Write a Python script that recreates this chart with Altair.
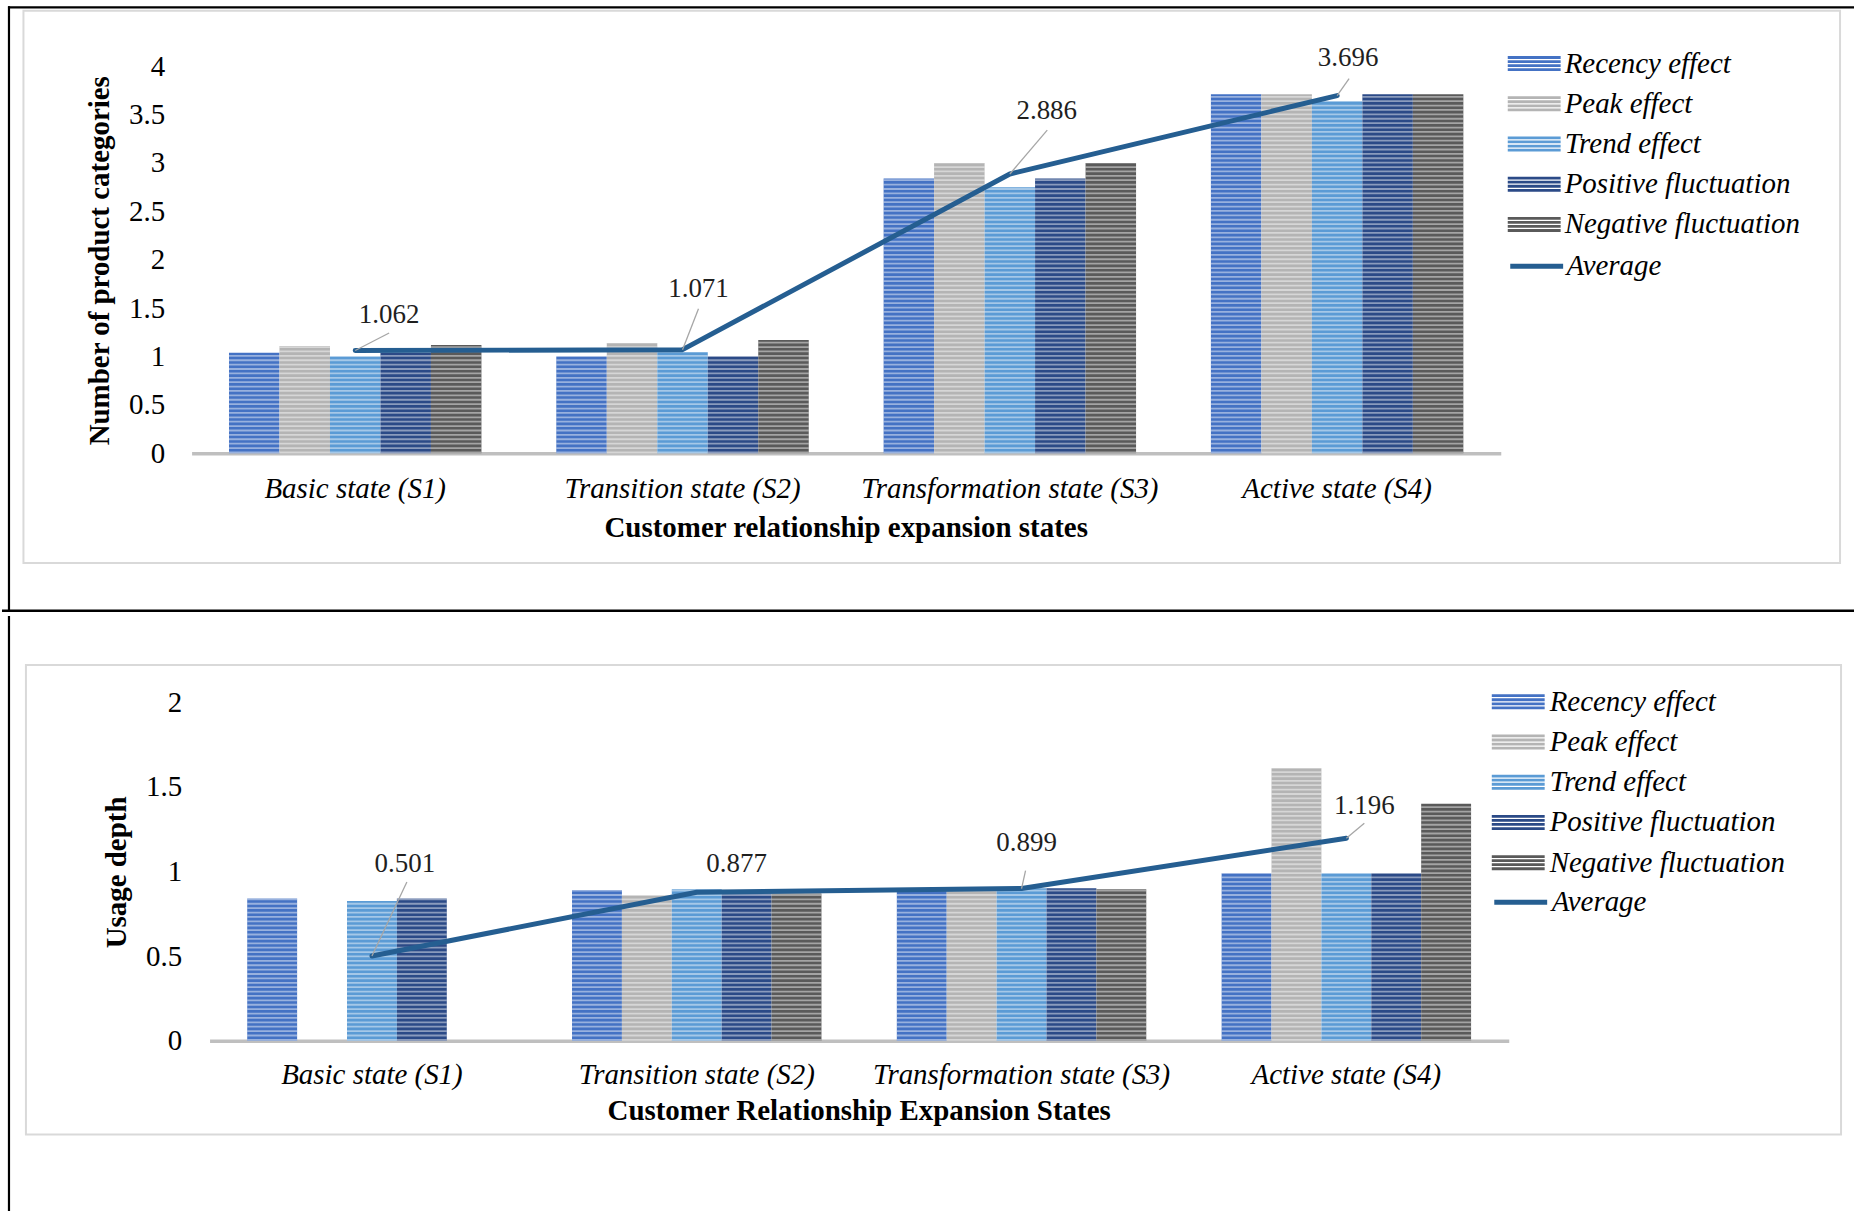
import altair as alt
import pandas as pd

# ---------------------------------------------------------------- data
categories = [
    "Basic state (S1)",
    "Transition state (S2)",
    "Transformation state (S3)",
    "Active state (S4)",
]
series_names = [
    "Recency effect",
    "Peak effect",
    "Trend effect",
    "Positive fluctuation",
    "Negative fluctuation",
]
series_colors = ["#4472C4", "#B4B4B4", "#5B9BD5", "#2B4A87", "#5A5A5A"]
average_color = "#255E91"

# Number of product categories per state
cat_recency = [1.04, 1.00, 2.84, 3.71]
cat_peak = [1.11, 1.14, 3.00, 3.71]
cat_trend = [1.00, 1.045, 2.75, 3.64]
cat_positive = [1.04, 1.00, 2.84, 3.71]
cat_negative = [1.12, 1.17, 3.00, 3.71]
cat_average = [1.062, 1.071, 2.886, 3.696]

# Usage depth per state
dep_recency = [0.84, 0.89, 0.90, 0.99]
dep_peak = [0.0, 0.86, 0.90, 1.61]
dep_trend = [0.825, 0.895, 0.90, 0.99]
dep_positive = [0.84, 0.87, 0.90, 0.99]
dep_negative = [0.0, 0.87, 0.895, 1.40]
dep_average = [0.501, 0.877, 0.899, 1.196]

# ---------------------------------------------------------------- styling
FONT = "Liberation Serif"
PAGE_W = 1856
STRIPE_PERIOD = 4.4   # px between the light lines of the bar texture
STRIPE_LINE = 1.8     # px thickness of each light line
LEGEND_ROW = 40.4     # px from one legend entry to the next

# striped rectangle used as legend swatch (coordinates scaled by sqrt(size)/2)
BAR_SYMBOL = (
    "M-1.325,-0.375H1.325V-0.235H-1.325Z "
    "M-1.325,-0.1717H1.325V-0.0317H-1.325Z "
    "M-1.325,0.0317H1.325V0.1717H-1.325Z "
    "M-1.325,0.235H1.325V0.375H-1.325Z"
)
LINE_SYMBOL = "M-1.325,0H1.325"

TOP = dict(
    height=612,
    x_range=[190, 1502], pad_in=0.2287, pad_out=0.1143,
    y_domain=[0, 4], y_range=[453, 65],
    y_ticks=[0, 0.5, 1, 1.5, 2, 2.5, 3, 3.5, 4],
    xlab_pad=21, ylab_pad=27,
    x_title="Customer relationship expansion states", x_title_pos=(846, 528),
    y_title="Number of product categories", y_title_pos=(98.6, 260),
    box=(21.5, 9.5, 1842, 563),
    legend_x=1515.5, legend_y=42.4, legend_gap=10.5, avg_shift=-1.5,
    label_off=[(34, -36), (16, -61), (37, -63), (11, -38)],
    leaders=[(34, -17.6), (16, -41), (37.5, -44), (12, -17)],
    hrules=[(6, PAGE_W, 6, 2.2), (0, PAGE_W, 610.8, 2.4)],
    vrules=[(7, 5, 612, 2.2)],
)

BOTTOM = dict(
    height=599,
    x_range=[208, 1510], pad_in=0.232, pad_out=0.116,
    y_domain=[0, 2], y_range=[425.7, 86.3],
    y_ticks=[0, 0.5, 1, 1.5, 2],
    xlab_pad=20, ylab_pad=28,
    x_title="Customer Relationship Expansion States", x_title_pos=(859, 496.5),
    y_title="Usage depth", y_title_pos=(115, 257),
    box=(24, 49, 1843, 519.7),
    legend_x=1499.5, legend_y=66, legend_gap=11.5, avg_shift=-3.5,
    label_off=[(33, -92), (40, -28), (5, -46), (18, -32)],
    leaders=[(35, -74), None, (4, -18), (18, -15)],
    hrules=[],
    vrules=[(7, 0, 599, 2.2)],
)


def bar_frame(cols):
    rows = []
    for name, vals in zip(series_names, cols):
        for state, v in zip(categories, vals):
            rows.append({"state": state, "series": name, "value": v})
    return pd.DataFrame(rows)


def panel(cols, averages, L):
    bars_df = bar_frame(cols)
    avg_df = pd.DataFrame({"state": categories, "avg": averages, "kind": ["Average"] * 4})
    one = pd.DataFrame({"k": [0]})

    unit_px = (L["y_range"][0] - L["y_range"][1]) / (L["y_domain"][1] - L["y_domain"][0])
    step = STRIPE_PERIOD / unit_px
    thick = STRIPE_LINE / unit_px

    xs = alt.Scale(domain=categories, range=L["x_range"],
                   paddingInner=L["pad_in"], paddingOuter=L["pad_out"])
    ys = alt.Scale(domain=L["y_domain"], range=L["y_range"], nice=False, zero=True)

    x_axis = alt.Axis(
        offset=L["y_range"][0] - L["height"], domainColor="#BFBFBF", domainWidth=3.5,
        ticks=False, tickSize=0, labelAngle=0, labelFont=FONT, labelFontStyle="italic",
        labelFontSize=29, labelColor="black", labelPadding=L["xlab_pad"], labelLimit=0,
        labelOverlap=False, grid=False, title=None,
    )
    y_axis = alt.Axis(
        offset=-L["x_range"][0], values=L["y_ticks"], labelExpr="'' + datum.value",
        domain=False, ticks=False, tickSize=0, grid=False, labelFont=FONT,
        labelFontSize=29, labelColor="black", labelPadding=L["ylab_pad"], title=None,
    )
    x_enc = alt.X("state:N", sort=categories, scale=xs, axis=x_axis)
    xo_enc = alt.XOffset("series:N", sort=series_names,
                         scale=alt.Scale(paddingInner=0, paddingOuter=0))

    fill_legend = alt.Legend(
        orient="none", legendX=L["legend_x"], legendY=L["legend_y"], title=None,
        symbolType=BAR_SYMBOL, symbolSize=1600, symbolStrokeWidth=0, symbolOpacity=1,
        labelFont=FONT, labelFontStyle="italic", labelFontSize=29, labelColor="black",
        labelOffset=L["legend_gap"], rowPadding=5.3, padding=0, labelLimit=0,
        direction="vertical",
    )
    stroke_legend = alt.Legend(
        orient="none", legendX=L["legend_x"],
        legendY=L["legend_y"] + 5 * LEGEND_ROW + L["avg_shift"],
        title=None, symbolType=LINE_SYMBOL, symbolSize=1600, symbolStrokeWidth=5,
        symbolOpacity=1, labelFont=FONT, labelFontStyle="italic", labelFontSize=29,
        labelColor="black", labelOffset=L["legend_gap"] - 3, padding=0, labelLimit=0,
        direction="vertical",
    )

    # chart frame
    x0, y0, x1, y1 = L["box"]
    frame = alt.Chart(one).mark_rect(fillOpacity=0, stroke="#D9D9D9", strokeWidth=2).encode(
        x=alt.value(x0), x2=alt.value(x1), y=alt.value(y0), y2=alt.value(y1)
    )

    bars = alt.Chart(bars_df).mark_bar().encode(
        x=x_enc, xOffset=xo_enc,
        y=alt.Y("value:Q", scale=ys, axis=y_axis),
        fill=alt.Fill("series:N", sort=series_names,
                      scale=alt.Scale(domain=series_names, range=series_colors),
                      legend=fill_legend),
    )

    # horizontal line texture on top of each bar
    stripes = (
        alt.Chart(bars_df)
        .transform_filter("datum.value > 0")
        .transform_calculate(s=f"sequence(0, datum.value, {step})")
        .transform_flatten(["s"])
        .transform_calculate(s2=f"min(datum.s + {thick}, datum.value)")
        .mark_bar(color="white", opacity=0.45)
        .encode(x=x_enc, xOffset=xo_enc,
                y=alt.Y("s:Q", scale=ys, axis=y_axis), y2="s2:Q")
    )

    line = alt.Chart(avg_df).mark_line(strokeWidth=5, strokeCap="round", strokeJoin="round").encode(
        x=x_enc,
        y=alt.Y("avg:Q", scale=ys, axis=y_axis),
        stroke=alt.Stroke("kind:N", scale=alt.Scale(domain=["Average"], range=[average_color]),
                          legend=stroke_legend),
    )

    notes = []
    for i in range(len(categories)):
        row = avg_df.iloc[[i]]
        lead = L["leaders"][i]
        if lead is not None:
            vx, vy = lead
            path = f"M0,0L{vx / 100:.4f},{vy / 100:.4f}"
            notes.append(
                alt.Chart(row).mark_point(shape=path, size=40000, filled=False,
                                          color="#A6A6A6", strokeWidth=1.3, opacity=1)
                .encode(x=x_enc, y=alt.Y("avg:Q", scale=ys, axis=y_axis))
            )
        dx, dy = L["label_off"][i]
        notes.append(
            alt.Chart(row).mark_text(dx=dx, dy=dy, font=FONT, fontSize=27, color="#1F1F1F")
            .encode(x=x_enc, y=alt.Y("avg:Q", scale=ys, axis=y_axis),
                    text=alt.Text("avg:Q", format=".3f"))
        )

    tx, ty = L["x_title_pos"]
    x_title = alt.Chart(pd.DataFrame({"t": [L["x_title"]]})).mark_text(
        font=FONT, fontSize=29, fontWeight="bold", color="black"
    ).encode(text="t:N", x=alt.value(tx), y=alt.value(ty))
    vx_, vy_ = L["y_title_pos"]
    y_title = alt.Chart(pd.DataFrame({"t": [L["y_title"]]})).mark_text(
        font=FONT, fontSize=29, fontWeight="bold", color="black", angle=270
    ).encode(text="t:N", x=alt.value(vx_), y=alt.value(vy_))

    # table borders around the cell
    borders = []
    for (a, b, y, w) in L["hrules"]:
        borders.append(alt.Chart(one).mark_rule(color="black", strokeWidth=w).encode(
            x=alt.value(a), x2=alt.value(b), y=alt.value(y)))
    for (x, a, b, w) in L["vrules"]:
        borders.append(alt.Chart(one).mark_rule(color="black", strokeWidth=w).encode(
            x=alt.value(x), y=alt.value(a), y2=alt.value(b)))

    return alt.layer(frame, bars, stripes, line, *notes, x_title, y_title, *borders).properties(
        width=PAGE_W, height=L["height"]
    )


top = panel([cat_recency, cat_peak, cat_trend, cat_positive, cat_negative], cat_average, TOP)
bottom = panel([dep_recency, dep_peak, dep_trend, dep_positive, dep_negative], dep_average, BOTTOM)

chart = (
    alt.vconcat(top, bottom, spacing=0)
    .resolve_scale(x="independent", y="independent", xOffset="independent",
                   fill="independent", stroke="independent")
    .properties(padding=0, background="white")
    .configure_view(stroke=None)
)

chart.save("out.html", embed_options={"renderer": "svg", "actions": False})
